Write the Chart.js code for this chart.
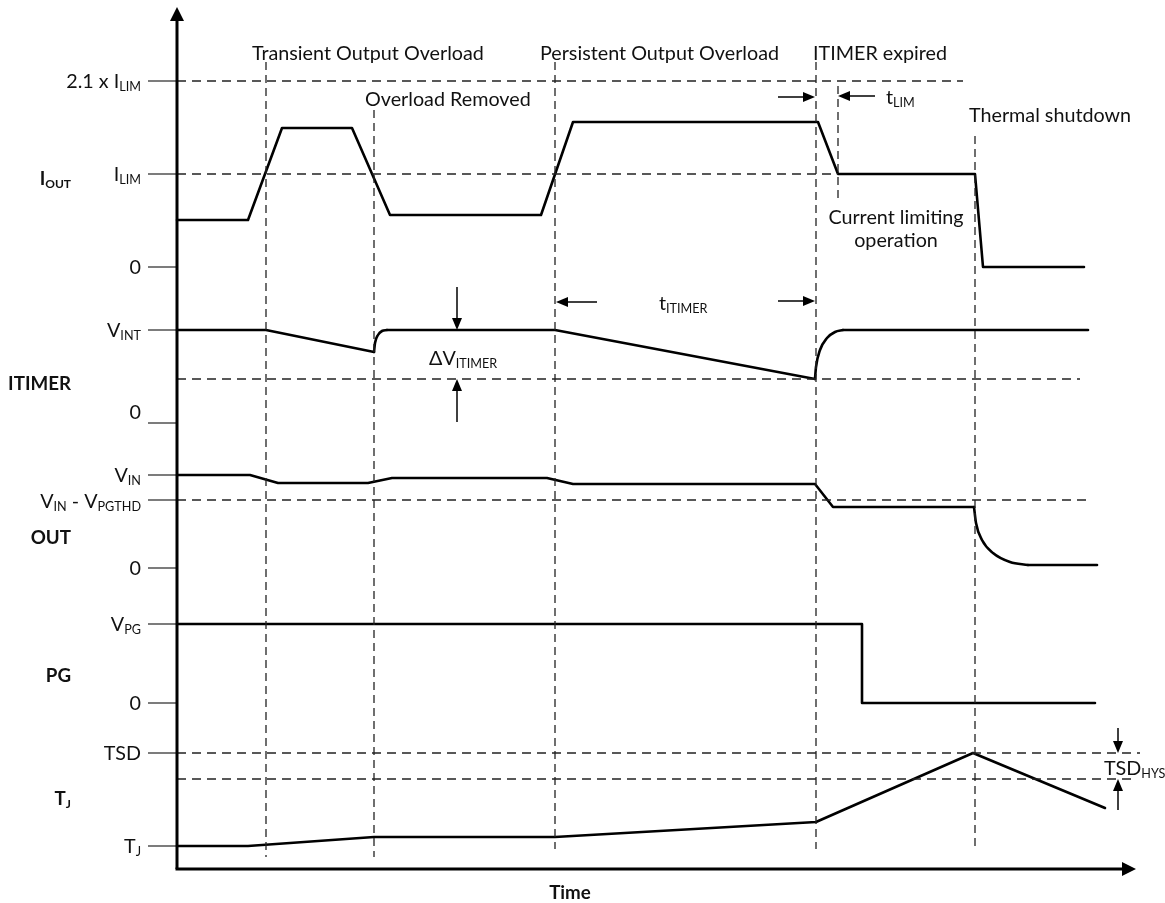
<!DOCTYPE html>
<html><head><meta charset="utf-8">
<script src="https://cdn.jsdelivr.net/npm/chart.js@4.4.0/dist/chart.umd.min.js"></script>
<style>html,body{margin:0;padding:0;background:#fff;}canvas{display:block;}</style>
</head><body>
<canvas id="c" width="1165" height="903"></canvas>
<script>
// ---- Data (t = time units from the vertical axis, v = level units above the time axis) ----
const ioutT = [0, 71, 105, 175, 213, 364, 396, 641, 661, 798, 806, 907];
const ioutV = [649, 649, 741, 741, 654, 654, 747, 747, 695, 695, 602, 602];

// ITIMER: straight parts and the two recovery curves
const itimerT = [0, 89, 197];
const itimerV = [539, 539, 517];
const itimerRec1T = [197, 198, 201, 205, 210];
const itimerRec1V = [517, 526, 534, 538, 539];
const itimerMidT = [210, 378, 638];
const itimerMidV = [539, 539, 490];
const itimerRec2T = [638, 639, 643, 650, 658, 666];
const itimerRec2V = [490, 502, 519, 531, 537, 539];
const itimerEndT = [666, 911];
const itimerEndV = [539, 539];

// OUT: straight part and the discharge curve after thermal shutdown
const outT = [0, 73, 101, 191, 215, 370, 396, 638, 656, 797];
const outV = [394, 394, 386, 386, 391, 391, 385, 385, 362, 362];
const outFallT = [797, 799, 805, 816, 833, 851];
const outFallV = [362, 346, 329, 316, 307, 304];
const outEndT = [851, 920];
const outEndV = [304, 304];

const pgT = [0, 685, 685, 918];
const pgV = [245, 245, 166, 166];

const tjT = [0, 71, 197, 378, 639, 796, 928];
const tjV = [23, 23, 32, 32, 47, 116, 61];

// reference (dashed) levels: level, end time
const refLevels = [788, 695, 490, 369, 116, 90];
const refEnds   = [786, 661, 903, 911, 963, 955];

// event markers (dashed verticals): time, top level, bottom level
const eventT   = [89, 197, 378, 639, 661, 798];
const eventTop = [807, 759, 807, 807, 783, 733];
const eventBot = [12, 12, 20, 20, 669, 20];

// axis tick levels and labels
const tickLevels = [788, 695, 602, 539, 446, 394, 369, 301, 245, 166, 116, 23];
const tickLabelLevels = [788, 695, 602, 539, 457, 394, 368, 301, 245, 166, 116, 23];
const tickLabels = ['2.1 x I_{LIM}', 'I_{LIM}', '0', 'V_{INT}', '0', 'V_{IN}', 'V_{IN} - V_{PGTHD}', '0', 'V_{PG}', '0', 'TSD', 'T_{J}'];

const signalNames  = ['I_{OUT}', 'ITIMER', 'OUT', 'PG', 'T_{J}'];
const signalLevels = [691, 486, 332, 194, 71];

// ---- build datasets ----
const pts = (T, V) => T.map((t, i) => ({x: t, y: V[i]}));
const wave = (T, V) => ({data: pts(T, V), borderColor: '#000', borderWidth: 2.6, pointRadius: 0, tension: 0, borderJoinStyle: 'round', borderCapStyle: 'round', fill: false});
const curve = (T, V) => Object.assign(wave(T, V), {cubicInterpolationMode: 'monotone'});
const datasets = [];
refLevels.forEach((lv, i) => datasets.push({data: [{x: 0, y: lv}, {x: refEnds[i], y: lv}], borderColor: '#222', borderWidth: 1.3, borderDash: [9, 6], pointRadius: 0, fill: false}));
eventT.forEach((t, i) => datasets.push({data: [{x: t, y: eventTop[i]}, {x: t, y: eventBot[i]}], borderColor: '#222', borderWidth: 1.3, borderDash: [8, 5], pointRadius: 0, fill: false}));
tickLevels.forEach(lv => datasets.push({data: [{x: -29, y: lv}, {x: 0, y: lv}], borderColor: '#444', borderWidth: 1.4, pointRadius: 0, fill: false}));
datasets.push(
  wave(ioutT, ioutV),
  wave(itimerT, itimerV), curve(itimerRec1T, itimerRec1V), wave(itimerMidT, itimerMidV), curve(itimerRec2T, itimerRec2V), wave(itimerEndT, itimerEndV),
  wave(outT, outV), curve(outFallT, outFallV), wave(outEndT, outEndV),
  wave(pgT, pgV), wave(tjT, tjV)
);

// ---- text helpers ----
const FONT = 'Lato';
let fs = 19;
function parseRich(s) {
  const parts = []; const re = /_\{([^}]*)\}/g; let last = 0, m;
  while ((m = re.exec(s))) { if (m.index > last) parts.push({t: s.slice(last, m.index), sub: false}); parts.push({t: m[1], sub: true}); last = re.lastIndex; }
  if (last < s.length) parts.push({t: s.slice(last), sub: false});
  return parts;
}
function drawRich(ctx, s, x, y, align, bold, size) {
  size = size || fs;
  const w = bold ? 'bold ' : '';
  const parts = parseRich(s);
  let total = 0;
  parts.forEach(p => { ctx.font = w + (p.sub ? size * 0.64 : size) + 'px ' + FONT; p.w = ctx.measureText(p.t).width; total += p.w; });
  let cx = align === 'right' ? x - total : align === 'center' ? x - total / 2 : x;
  const base = y + size * 0.36;
  ctx.textBaseline = 'alphabetic'; ctx.textAlign = 'left'; ctx.fillStyle = '#111';
  parts.forEach(p => { ctx.font = w + (p.sub ? size * 0.64 : size) + 'px ' + FONT; ctx.fillText(p.t, cx, p.sub ? base + size * 0.15 : base); cx += p.w; });
}

// annotations: [text, t, v, align]
const notes = [
  ['Transient Output Overload', 75, 816, 'left'],
  ['Persistent Output Overload', 363, 816, 'left'],
  ['ITIMER expired', 636, 816, 'left'],
  ['Overload Removed', 188, 770, 'left'],
  ['t_{LIM}', 709, 772, 'left'],
  ['Thermal shutdown', 792, 754, 'left'],
  ['Current limiting', 719, 652, 'center'],
  ['operation', 719, 629, 'center'],
  ['t_{ITIMER}', 482, 566, 'left'],
  ['\u0394V_{ITIMER}', 252, 511, 'left'],
  ['TSD_{HYS}', 927, 101, 'left']
];
// arrows: from -> to (head at 'to')
const arrows = [
  [[601, 772], [638, 772]], [[698, 773], [661, 773]],
  [[420, 567], [379, 567]], [[601, 568], [638, 568]],
  [[280, 582], [280, 539]], [[280, 447], [280, 490]],
  [[941, 141], [941, 116]], [[941, 59], [941, 90]]
];

const deco = {
  id: 'deco',
  afterDatasetsDraw(chart) {
    const ctx = chart.ctx, xs = chart.scales.x, ys = chart.scales.y;
    const X = t => xs.getPixelForValue(t), Y = v => ys.getPixelForValue(v);
    ctx.save();
    ctx.font = '100px ' + FONT;
    fs = 100 * 232 / ctx.measureText('Transient Output Overload').width;
    // axes
    ctx.strokeStyle = '#000'; ctx.fillStyle = '#000'; ctx.lineWidth = 3; ctx.lineCap = 'butt';
    ctx.beginPath(); ctx.moveTo(X(0), Y(0)); ctx.lineTo(X(0), Y(849)); ctx.stroke();
    ctx.beginPath(); ctx.moveTo(X(-1.5), Y(0)); ctx.lineTo(X(946), Y(0)); ctx.stroke();
    ctx.beginPath(); ctx.moveTo(X(0), Y(862)); ctx.lineTo(X(-7), Y(848)); ctx.lineTo(X(7), Y(848)); ctx.closePath(); ctx.fill();
    ctx.beginPath(); ctx.moveTo(X(959), Y(0)); ctx.lineTo(X(945), Y(7)); ctx.lineTo(X(945), Y(-7)); ctx.closePath(); ctx.fill();
    // arrows
    ctx.lineWidth = 1.5;
    arrows.forEach(([a, b]) => {
      const x1 = X(a[0]), y1 = Y(a[1]), x2 = X(b[0]), y2 = Y(b[1]);
      const L = Math.hypot(x2 - x1, y2 - y1), ux = (x2 - x1) / L, uy = (y2 - y1) / L;
      const hl = 12, hw = 5;
      ctx.beginPath(); ctx.moveTo(x1, y1); ctx.lineTo(x2 - ux * hl, y2 - uy * hl); ctx.stroke();
      ctx.beginPath(); ctx.moveTo(x2, y2);
      ctx.lineTo(x2 - ux * hl - uy * hw, y2 - uy * hl + ux * hw);
      ctx.lineTo(x2 - ux * hl + uy * hw, y2 - uy * hl - ux * hw);
      ctx.closePath(); ctx.fill();
    });
    tickLabels.forEach((s, i) => drawRich(ctx, s, X(-36), Y(tickLabelLevels[i]), 'right', false));
    signalNames.forEach((s, i) => drawRich(ctx, s, X(-106), Y(signalLevels[i]), 'right', true, fs * 0.95));
    notes.forEach(([s, t, v, al]) => drawRich(ctx, s, X(t), Y(v), al, false));
    drawRich(ctx, 'Time', X(393), Y(-23), 'center', true, fs * 0.95);
    ctx.restore();
  }
};

new Chart(document.getElementById('c'), {
  type: 'line',
  data: {datasets},
  options: {
    responsive: false, animation: false, events: [],
    layout: {padding: 0},
    plugins: {legend: {display: false}, tooltip: {enabled: false}},
    scales: {
      x: {type: 'linear', display: false, min: -177, max: 988},
      y: {type: 'linear', display: false, min: -34, max: 869}
    }
  },
  plugins: [deco]
});
</script>
</body></html>
